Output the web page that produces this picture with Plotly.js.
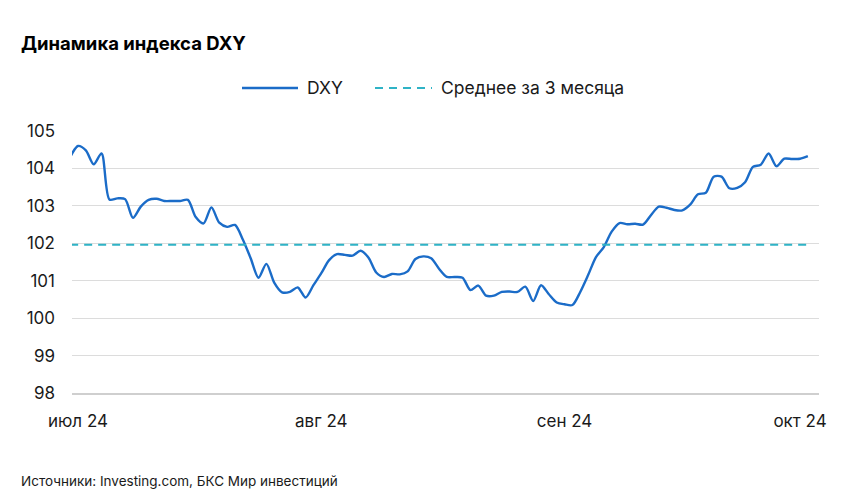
<!DOCTYPE html>
<html>
<head>
<meta charset="utf-8">
<script src="https://cdn.plot.ly/plotly-3.0.1.min.js"></script>
<style>
  html, body { margin: 0; padding: 0; background: #ffffff; }
  #chart { width: 853px; height: 503px; }
</style>
</head>
<body>
<div id="chart"></div>
<script>
// ---- data ----
const startDate = '2024-06-30';
const dxyValues = [
  104.30, 104.60, 104.48, 104.11, 104.40, 103.17, 103.20, 103.18, 102.68, 102.98,
  103.16, 103.19, 103.13, 103.13, 103.13, 103.16, 102.70, 102.53, 102.96, 102.55,
  102.44, 102.49, 102.10, 101.60, 101.08, 101.45, 100.95, 100.69, 100.70, 100.82,
  100.55, 100.88, 101.20, 101.55, 101.71, 101.69, 101.67, 101.80, 101.62, 101.22,
  101.10, 101.18, 101.17, 101.25, 101.58, 101.65, 101.60, 101.32, 101.10, 101.10,
  101.08, 100.75, 100.87, 100.60, 100.60, 100.70, 100.71, 100.70, 100.84, 100.46,
  100.88, 100.64, 100.42, 100.37, 100.35, 100.70, 101.15, 101.63, 101.90, 102.31,
  102.54, 102.51, 102.52, 102.50, 102.75, 102.98, 102.95, 102.89, 102.88, 103.03,
  103.31, 103.35, 103.78, 103.78, 103.47, 103.48, 103.63, 104.04, 104.10, 104.40,
  104.06, 104.26, 104.25, 104.26, 104.33
];
const meanValue = 101.96;
const tickDates = ['2024-07-01', '2024-08-01', '2024-09-01', '2024-10-01'];
const tickLabels = ['июл 24', 'авг 24', 'сен 24', 'окт 24'];
const yTicks = [98, 99, 100, 101, 102, 103, 104, 105];
const seriesNames = ['DXY', 'Среднее за 3 месяца'];

// build daily dates
function addDays(iso, n) {
  const d = new Date(iso + 'T00:00:00Z');
  d.setUTCDate(d.getUTCDate() + n);
  return d.toISOString().slice(0, 10);
}
const dates = dxyValues.map((_, i) => addDays(startDate, i));

const FONT = 'Inter, Roboto, "Noto Sans", sans-serif';
const BLUE = '#1b6cc8';
const TEAL = '#2fb3c6';

// plot area geometry
const L = 72, R = 34, T = 131, B = 110, W = 853, H = 503;
const pw = W - L - R, ph = H - T - B;
const px = x => (x - L) / pw;
const py = y => (H - B - y) / ph;

const traces = [
  {
    x: dates, y: dxyValues, type: 'scatter', mode: 'lines', name: seriesNames[0],
    line: { color: BLUE, width: 2.4, shape: 'spline', smoothing: 0.8 },
    hoverinfo: 'skip'
  },
  {
    x: [dates[0], dates[dates.length - 1]], y: [meanValue, meanValue],
    type: 'scatter', mode: 'lines', name: seriesNames[1],
    line: { color: TEAL, width: 2, dash: '8px,6px' },
    hoverinfo: 'skip'
  }
];

const layout = {
  width: W, height: H,
  margin: { l: L, r: R, t: T, b: B },
  paper_bgcolor: '#ffffff', plot_bgcolor: '#ffffff',
  showlegend: false,
  font: { family: FONT, color: '#1a1a1a', size: 17 },
  xaxis: {
    type: 'date',
    range: ['2024-06-30 05:38', '2024-10-03 10:05'],
    tickmode: 'array', tickvals: tickDates, ticktext: tickLabels,
    showgrid: false, zeroline: false,
    showline: true, linecolor: '#cfcfcf', linewidth: 2,
    ticks: '', ticklabelstandoff: 12,
    tickfont: { family: FONT, size: 17, color: '#1a1a1a' }
  },
  yaxis: {
    range: [98, 105],
    tickmode: 'array', tickvals: yTicks,
    showgrid: true, gridcolor: '#dcdcdc', gridwidth: 1,
    zeroline: false, showline: false, ticks: '',
    ticklabelstandoff: 16,
    tickfont: { family: FONT, size: 17, color: '#1a1a1a' }
  },
  shapes: [
    { type: 'line', xref: 'paper', yref: 'paper', x0: px(242), x1: px(298), y0: py(88), y1: py(88),
      line: { color: BLUE, width: 2.4 } },
    { type: 'line', xref: 'paper', yref: 'paper', x0: px(375), x1: px(432), y0: py(88), y1: py(88),
      line: { color: TEAL, width: 2, dash: '8px,6px' } }
  ],
  annotations: [
    { text: '<b>Динамика индекса DXY</b>', xref: 'paper', yref: 'paper', x: px(19), y: py(43),
      xanchor: 'left', yanchor: 'middle', showarrow: false,
      font: { family: FONT, size: 18.5, color: '#000000' } },
    { text: seriesNames[0], xref: 'paper', yref: 'paper', x: px(305), y: py(88),
      xanchor: 'left', yanchor: 'middle', showarrow: false,
      font: { family: FONT, size: 17.5, color: '#1a1a1a' } },
    { text: seriesNames[1], xref: 'paper', yref: 'paper', x: px(439), y: py(88),
      xanchor: 'left', yanchor: 'middle', showarrow: false,
      font: { family: FONT, size: 17.5, color: '#1a1a1a' } },
    { text: 'Источники: Investing.com, БКС Мир инвестиций', xref: 'paper', yref: 'paper',
      x: px(19), y: py(481), xanchor: 'left', yanchor: 'middle', showarrow: false,
      font: { family: FONT, size: 13.5, color: '#1a1a1a' } }
  ]
};

Plotly.newPlot('chart', traces, layout, { displayModeBar: false, staticPlot: true });
</script>
</body>
</html>
